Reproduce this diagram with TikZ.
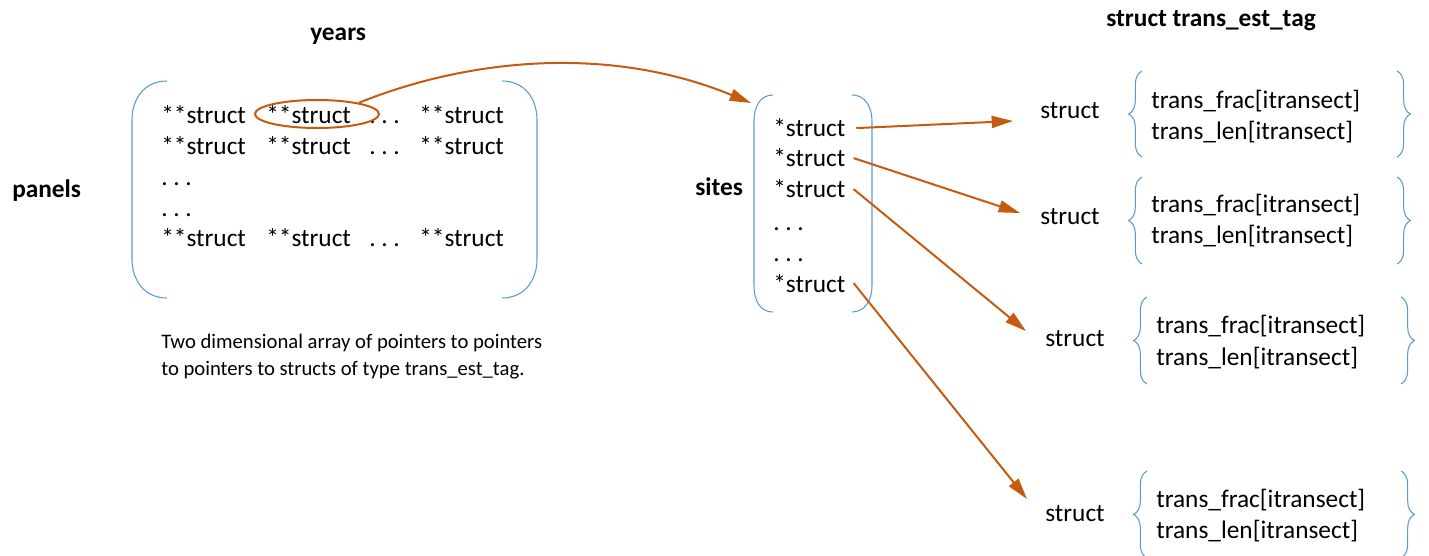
\documentclass[tikz,border=0pt]{standalone}
\usepackage{fontspec}
\setmainfont{Carlito}
\usetikzlibrary{positioning,arrows.meta}
\usetikzlibrary{shapes.geometric}
\usetikzlibrary{decorations.pathreplacing}

\definecolor{ptrorange}{RGB}{197,90,17}
\definecolor{parblue}{RGB}{91,155,213}

\tikzset{
  txt/.style={anchor=base west,inner sep=0pt,font=\fontsize{19}{23.5}\selectfont},
  note/.style={anchor=base west,inner sep=0pt,font=\fontsize{15.5}{19.5}\selectfont},
  ttl/.style={anchor=base west,inner sep=0pt,font=\fontsize{19}{23.5}\selectfont\bfseries},
  paren/.style={parblue,line width=0.8pt},
  brc/.style={parblue,line width=0.8pt,decorate,decoration={brace,amplitude=10pt}},
  ptr/.style={ptrorange,line width=1.5pt,-{Triangle[length=16pt,width=9pt]}}
}

\begin{document}
\begin{tikzpicture}[x=0.75pt,y=-0.75pt]
  \useasboundingbox (0,0) rectangle (1429,556);

  % titles
  \node[ttl] (years) at (310,41) {years};
  \node[ttl] (panels) at (12,198) {panels};
  \node[ttl] (sites) at (695,196) {sites};
  \node[ttl,anchor=base east] (tag) at (1316,27) {struct trans\_est\_tag};

  % panels x years array
  \draw[paren] (167,81) .. controls (145,81) and (132,98) .. (132,120) -- (132,259)
    .. controls (132,281) and (145,298) .. (167,298);
  \draw[paren] (502,81) .. controls (524,81) and (537,98) .. (537,120) -- (537,259)
    .. controls (537,281) and (524,298) .. (502,298);
  \node[txt] (m11) at (161,124) {**struct};
  \node[txt] (m12) at (266,124) {**struct};
  \node[txt] (m13) at (369,124) {.\ .\ .};
  \node[txt] (m14) at (419,124) {**struct};
  \node[txt] (m21) at (161,155) {**struct};
  \node[txt] (m22) at (266,155) {**struct};
  \node[txt] (m23) at (369,155) {.\ .\ .};
  \node[txt] (m24) at (419,155) {**struct};
  \node[txt] (m31) at (161,186) {.\ .\ .};
  \node[txt] (m41) at (161,217) {.\ .\ .};
  \node[txt] (m51) at (161,247) {**struct};
  \node[txt] (m52) at (266,247) {**struct};
  \node[txt] (m53) at (369,247) {.\ .\ .};
  \node[txt] (m54) at (419,247) {**struct};
  \node[draw=ptrorange,line width=1.5pt,ellipse,minimum width=93pt,minimum height=21pt,inner sep=0pt] (sel) at (317,114) {};

  \node[note] (desc1) at (161,348) {Two dimensional array of pointers to pointers};
  \node[note] (desc2) at (161,375) {to pointers to structs of type trans\_est\_tag.};

  % sites
  \draw[paren] (773,95) .. controls (761,95) and (754,105) .. (754,122) -- (754,285)
    .. controls (754,302) and (761,312) .. (773,312);
  \draw[paren] (852,95) .. controls (864,95) and (872,105) .. (872,122) -- (872,285)
    .. controls (872,302) and (864,312) .. (852,312);
  \node[txt] (s1) at (773,137) {*struct};
  \node[txt] (s2) at (773,167) {*struct};
  \node[txt] (s3) at (773,198) {*struct};
  \node[txt] (sd1) at (773,231) {.\ .\ .};
  \node[txt] (sd2) at (773,262) {.\ .\ .};
  \node[txt] (s4) at (773,292) {*struct};

  \coordinate (sitesin) at (751,103);
  \draw[ptr] (sel.15) .. controls (470,58) and (610,45) .. (sitesin);

  % structs
  \node[txt] (t1) at (1040,119) {struct};
  \node[txt] (t2) at (1040,225) {struct};
  \node[txt] (t3) at (1045,346) {struct};
  \node[txt] (t4) at (1045,521) {struct};
  \node[txt] (f1) at (1151,109) {trans\_frac[itransect]};
  \node[txt] (l1) at (1151,140) {trans\_len[itransect]};
  \node[txt] (f2) at (1151,213) {trans\_frac[itransect]};
  \node[txt] (l2) at (1151,244) {trans\_len[itransect]};
  \node[txt] (f3) at (1156,334) {trans\_frac[itransect]};
  \node[txt] (l3) at (1156,365) {trans\_len[itransect]};
  \node[txt] (f4) at (1156,507) {trans\_frac[itransect]};
  \node[txt] (l4) at (1156,538) {trans\_len[itransect]};
  \draw[brc] (1142,157) -- (1142,71);
  \draw[brc] (1397,71) -- (1397,157);
  \draw[brc] (1142,264) -- (1142,177);
  \draw[brc] (1397,177) -- (1397,264);
  \draw[brc] (1147,384) -- (1147,297);
  \draw[brc] (1401,297) -- (1401,384);
  \draw[brc] (1147,558) -- (1147,471);
  \draw[brc] (1401,471) -- (1401,558);

  \coordinate (e1) at (1013,121);
  \coordinate (e2) at (1020,213);
  \coordinate (e3) at (1026,331);
  \coordinate (e4) at (1027,499);
  \draw[ptr] ([xshift=8pt]s1.east) -- (e1);
  \draw[ptr] ([xshift=6pt]s2.east) -- (e2);
  \draw[ptr] ([xshift=6pt]s3.east) -- (e3);
  \draw[ptr] ([xshift=6pt]s4.east) -- (e4);
\end{tikzpicture}
\end{document}
